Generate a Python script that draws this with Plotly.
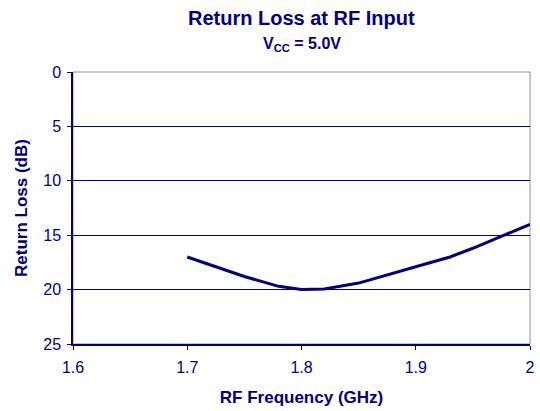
import plotly.graph_objects as go

freq_ghz = [1.70, 1.75, 1.78, 1.80, 1.82, 1.85, 1.90, 1.93, 1.95, 2.00]
return_loss_db = [17.0, 18.8, 19.7, 20.0, 19.95, 19.4, 17.9, 17.0, 16.2, 14.0]

x_ticks = [1.6, 1.7, 1.8, 1.9, 2.0]
x_tick_labels = ["1.6", "1.7", "1.8", "1.9", "2"]
y_ticks = [0, 5, 10, 15, 20, 25]

navy = "#000080"
font = "Liberation Sans, Arial, sans-serif"

fig = go.Figure()
fig.add_trace(go.Scatter(x=freq_ghz, y=return_loss_db, mode="lines",
                         line=dict(color=navy, width=3), showlegend=False,
                         hoverinfo="skip"))

fig.update_layout(
    width=540, height=411,
    margin=dict(l=73, r=10, t=72, b=67, autoexpand=False),
    paper_bgcolor="white", plot_bgcolor="white",
    font=dict(family=font, color=navy, size=16),
    xaxis=dict(range=[1.6, 2.0], tickvals=x_ticks, ticktext=x_tick_labels,
               showgrid=False, zeroline=False, showline=True, linecolor=navy,
               linewidth=1.5, ticks="outside", ticklen=4, tickcolor=navy,
               ticklabelstandoff=4,
               tickfont=dict(size=16, color=navy), automargin=False,
               title=dict(text="<b>RF Frequency (GHz)</b>", font=dict(size=17, color=navy), standoff=16),
               mirror=False),
    yaxis=dict(range=[25, 0], tickvals=y_ticks, showgrid=True, gridcolor=navy,
               gridwidth=1, zeroline=False, showline=True, linecolor=navy,
               linewidth=1.5, ticks="outside", ticklen=4, tickcolor=navy,
               ticklabelstandoff=3,
               tickfont=dict(size=16, color=navy), automargin=False,
               title=dict(text="<b>Return Loss (dB)</b>", font=dict(size=17, color=navy), standoff=11)),
    shapes=[dict(type="rect", xref="paper", yref="paper", x0=0, x1=1, y0=0, y1=1,
                 line=dict(color="#909090", width=1), layer="below")],
    annotations=[
        dict(text="<b>Return Loss at RF Input</b>", xref="paper", yref="paper",
             x=0.5, y=1, yshift=54, showarrow=False, font=dict(size=20, color=navy),
             xanchor="center", yanchor="middle"),
        dict(text="<b>V<sub>CC</sub> = 5.0V</b>", xref="paper", yref="paper",
             x=0.5, y=1, yshift=28, showarrow=False, font=dict(size=16, color=navy),
             xanchor="center", yanchor="middle"),
    ],
)

fig.write_html("out.html", config={"displayModeBar": False},
               post_script="document.body.style.margin='0';document.body.style.padding='0';")
